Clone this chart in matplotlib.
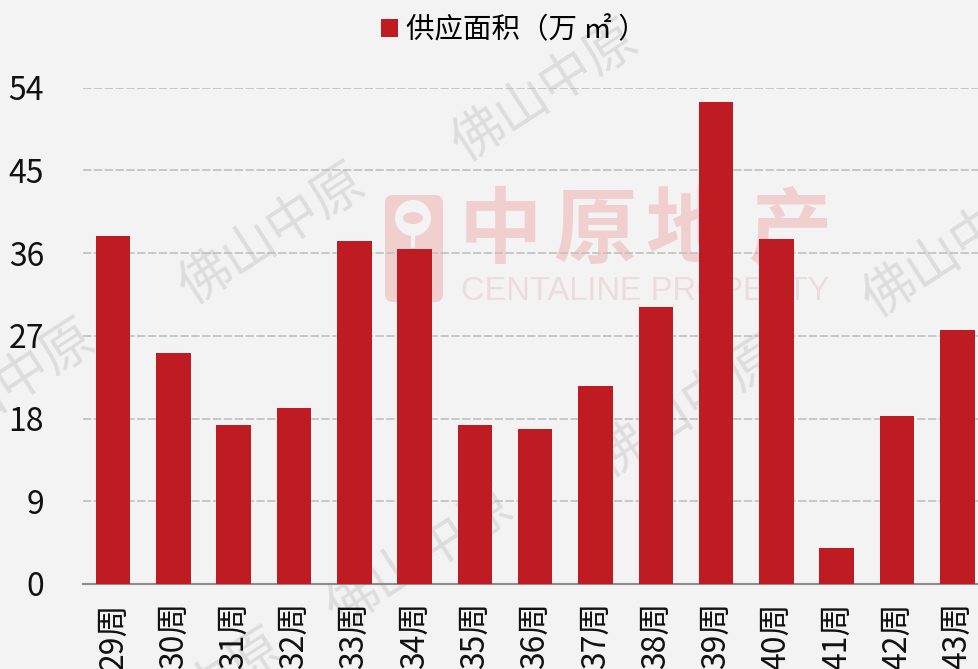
import matplotlib
matplotlib.use("Agg")
import matplotlib.pyplot as plt
from matplotlib.patches import Circle, Ellipse, FancyBboxPatch

plt.rcParams["font.family"] = ["Noto Sans CJK SC", "DejaVu Sans"]

weeks = ["29周", "30周", "31周", "32周", "33周", "34周", "35周", "36周",
         "37周", "38周", "39周", "40周", "41周", "42周", "43周"]
supply = [37.9, 25.1, 17.3, 19.1, 37.3, 36.4, 17.3, 16.85,
          21.5, 30.1, 52.4, 37.5, 3.9, 18.3, 27.6]
y_ticks = [0, 9, 18, 27, 36, 45, 54]
series_name = "供应面积（万 ㎡ ）"

W, H = 979, 669
BG = "#f3f3f3"
RED = "#be1b22"
PINK = "#f1cfcf"

fig = plt.figure(figsize=(W / 100, H / 100), dpi=100, facecolor=BG)

# background layer in pixel coordinates: watermarks and logo
bg = fig.add_axes([0, 0, 1, 1], zorder=0)
bg.set_xlim(0, W)
bg.set_ylim(H, 0)
bg.axis("off")

for x, y in [(272, 235), (545, 92), (956, 248), (2, 391), (688, 408), (420, 558), (190, 700)]:
    bg.text(x, y, "佛山中原", fontsize=38, color="#dddddd", rotation=33,
            ha="center", va="center")

bg.add_patch(FancyBboxPatch((393, 203), 42, 91, boxstyle="round,pad=8,rounding_size=8",
                            fc=PINK, ec="none"))
bg.add_patch(Circle((413, 218), 18, fc=BG, ec="none"))
bg.add_patch(Ellipse((413, 218), 20, 12, fc=PINK, ec="none"))
bg.plot([413, 413], [232, 246], color=BG, lw=3)
for x, ch in zip([500, 595, 687, 791], "中原地产"):
    bg.text(x, 232, ch, fontsize=60, color=PINK, weight="bold", ha="center", va="center")
bg.text(645, 291, "CENTALINE PROPERTY", fontsize=23.5, color="#eedcdc",
        ha="center", va="center", family="Liberation Sans")

# main chart
left, right, top, bottom = 83, W, 87.5, 584
ax = fig.add_axes([left / W, 1 - bottom / H, (right - left) / W, (bottom - top) / H], zorder=1)
ax.patch.set_alpha(0)

x = list(range(len(weeks)))
ax.bar(x, supply, width=0.572, color=RED, label=series_name, zorder=3)
ax.set_xlim(-0.5, 14.36)
ax.set_ylim(0, 54)

ax.set_yticks(y_ticks)
ax.set_xticks(x)
ax.set_xticklabels(weeks, rotation=90, fontsize=23, color="#111111", va="top")
ax.tick_params(axis="y", length=0, pad=28, labelsize=23, labelcolor="#111111")
ax.tick_params(axis="x", length=0, pad=13)

ax.grid(axis="y", color="#c0c0c0", linestyle=(0, (5, 1.5)), linewidth=1.2, zorder=1)
ax.set_axisbelow(True)
for side in ["top", "right", "left"]:
    ax.spines[side].set_visible(False)
ax.spines["bottom"].set_color("#8c8c8c")
ax.spines["bottom"].set_linewidth(1.5)

fig.legend(loc="center", bbox_to_anchor=(514 / W, 1 - 30 / H), frameon=False,
           fontsize=20.5, handlelength=0.62, handleheight=0.62, handletextpad=0.28)

fig.savefig("out.png", dpi=100, facecolor=BG)
